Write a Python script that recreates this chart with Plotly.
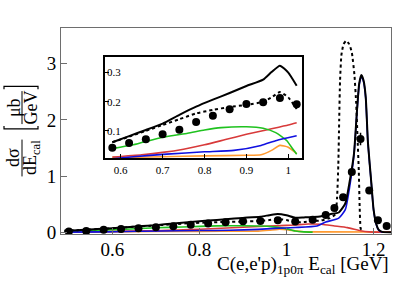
import plotly.graph_objects as go

W, H = 407, 294

# ---------------- data ----------------
data_x = [0.50, 0.54, 0.58, 0.62, 0.66, 0.70, 0.74, 0.78, 0.82, 0.86, 0.90, 0.94,
          0.98, 1.02, 1.06, 1.09, 1.11, 1.13, 1.15, 1.17, 1.19, 1.21, 1.23]
data_y = [0.010, 0.020, 0.042, 0.058, 0.071, 0.088, 0.104, 0.130, 0.152, 0.174, 0.192, 0.198,
          0.213, 0.191, 0.220, 0.305, 0.430, 0.620, 1.070, 1.660, 0.740, 0.210, 0.110]
data_err = [0.003, 0.003, 0.004, 0.004, 0.004, 0.005, 0.005, 0.005, 0.006, 0.006, 0.006, 0.006,
            0.007, 0.007, 0.008, 0.010, 0.015, 0.025, 0.050, 0.110, 0.050, 0.020, 0.015]

total_x = [0.49, 0.52, 0.55, 0.58, 0.62, 0.66, 0.70, 0.74, 0.78, 0.82, 0.86, 0.90, 0.94, 0.96,
           0.98, 1.00, 1.02, 1.04, 1.06, 1.08, 1.10, 1.12, 1.135, 1.145, 1.155, 1.162, 1.167,
           1.172, 1.177, 1.182, 1.187, 1.195, 1.200, 1.206, 1.212, 1.220, 1.240]
total_y = [0.025, 0.035, 0.048, 0.061, 0.082, 0.103, 0.125, 0.155, 0.183, 0.207, 0.230, 0.254,
           0.276, 0.302, 0.324, 0.300, 0.255, 0.262, 0.270, 0.285, 0.320, 0.350, 0.510, 0.900,
           1.400, 2.180, 2.650, 2.800, 2.700, 2.400, 1.600, 0.860, 0.400, 0.150, 0.040, 0.005, 0.0]

alt_x = [0.49, 0.52, 0.55, 0.58, 0.62, 0.66, 0.70, 0.74, 0.78, 0.82, 0.86, 0.90, 0.94, 0.96,
         0.98, 1.00, 1.02, 1.04, 1.06, 1.08, 1.10, 1.112, 1.116, 1.119, 1.121, 1.123, 1.126,
         1.131, 1.137, 1.144, 1.150, 1.156, 1.160, 1.163, 1.166, 1.168, 1.170, 1.173]
alt_y = [0.025, 0.035, 0.048, 0.061, 0.080, 0.100, 0.120, 0.140, 0.160, 0.172, 0.182, 0.189,
         0.200, 0.215, 0.233, 0.215, 0.175, 0.180, 0.195, 0.210, 0.250, 0.320, 0.600, 1.200,
         2.000, 2.700, 3.150, 3.350, 3.410, 3.350, 3.200, 2.800, 2.300, 1.700, 1.100, 0.460,
         0.080, 0.0]

blue_x = [0.49, 0.58, 0.63, 0.71, 0.80, 0.87, 0.935, 0.972, 1.02, 1.07, 1.09, 1.12, 1.135,
          1.145, 1.155, 1.162, 1.167, 1.172, 1.177, 1.182, 1.187, 1.195, 1.200, 1.206, 1.212, 1.220]
blue_y = [0.000, 0.004, 0.011, 0.020, 0.028, 0.033, 0.050, 0.067, 0.083, 0.110, 0.180, 0.250,
          0.400, 0.800, 1.380, 2.160, 2.630, 2.780, 2.680, 2.380, 1.580, 0.850, 0.390, 0.140,
          0.030, 0.0]

green_x = [0.49, 0.52, 0.55, 0.58, 0.63, 0.70, 0.76, 0.80, 0.84, 0.90, 0.94, 0.97, 0.996,
           1.013, 1.02, 1.04, 1.06]
green_y = [0.012, 0.020, 0.030, 0.039, 0.052, 0.078, 0.092, 0.103, 0.111, 0.114, 0.109, 0.094,
           0.067, 0.033, 0.020, 0.005, 0.0]

red_x = [0.49, 0.58, 0.65, 0.70, 0.75, 0.80, 0.85, 0.90, 0.95, 1.00, 1.02, 1.05, 1.08, 1.11,
         1.14, 1.17, 1.19, 1.24]
red_y = [0.002, 0.010, 0.018, 0.026, 0.037, 0.052, 0.070, 0.088, 0.104, 0.120, 0.128, 0.145,
         0.140, 0.110, 0.080, 0.025, 0.005, 0.0]

orange_x = [0.49, 0.58, 0.70, 0.80, 0.90, 0.935, 0.96, 0.98, 1.00, 1.02, 1.04, 1.08, 1.24]
orange_y = [0.002, 0.008, 0.011, 0.014, 0.016, 0.018, 0.033, 0.050, 0.044, 0.022, 0.008,
            0.004, 0.003]

main_xticks = [0.6, 0.8, 1.0, 1.2]
main_xticktext = ["0.6", "0.8", "1", "1.2"]
main_yticks = [0, 1, 2, 3]
inset_xticks = [0.6, 0.7, 0.8, 0.9, 1.0]
inset_xticktext = ["0.6", "0.7", "0.8", "0.9", "1"]
inset_yticks = [0.1, 0.2, 0.3]
inset_lo, inset_hi = 0.58, 1.02

# ---------------- styles ----------------
SERIF = "Liberation Serif"
C_GREEN = "#1fc21f"
C_RED = "#d83a3a"
C_BLUE = "#1010e0"
C_ORANGE = "#ff9a30"


def px(x):
    return x / W


def py(y):
    return 1 - y / H


def sub(xs, ys):
    out = [(a, b) for a, b in zip(xs, ys) if inset_lo - 1e-9 <= a <= inset_hi + 1e-9]
    return [a for a, _ in out], [b for _, b in out]


fig = go.Figure()

curves = [
    (orange_x, orange_y, dict(color=C_ORANGE, width=1.6)),
    (red_x, red_y, dict(color=C_RED, width=1.6)),
    (green_x, green_y, dict(color=C_GREEN, width=1.6)),
    (blue_x, blue_y, dict(color=C_BLUE, width=1.6)),
    (alt_x, alt_y, dict(color="black", width=2, dash="dot")),
    (total_x, total_y, dict(color="black", width=2)),
]

for xs, ys, ln in curves:
    fig.add_trace(go.Scatter(x=xs, y=ys, mode="lines", line=dict(shape="spline", smoothing=0.5, **ln),
                             xaxis="x", yaxis="y", showlegend=False, hoverinfo="skip"))
fig.add_trace(go.Scatter(x=data_x, y=data_y, mode="markers",
                         marker=dict(color="black", size=8),
                         error_y=dict(type="data", array=data_err, color="black", thickness=1.5, width=0),
                         xaxis="x", yaxis="y", showlegend=False))

for xs, ys, ln in curves:
    sx, sy = sub(xs, ys)
    fig.add_trace(go.Scatter(x=sx, y=sy, mode="lines", line=dict(shape="spline", smoothing=0.5, **ln),
                             xaxis="x2", yaxis="y2", showlegend=False, hoverinfo="skip"))
sx, sy = sub(data_x, data_y)
fig.add_trace(go.Scatter(x=sx, y=sy, mode="markers", marker=dict(color="black", size=8),
                         xaxis="x2", yaxis="y2", showlegend=False))

# main frame: x 61..391, y 29.3..241.5
main_dx = [px(61), px(391)]
main_dy = [py(241.5), py(29.3)]
ins_dx = [px(105), px(301.7)]
ins_dy = [py(163.3), py(59)]

axis_gray = "#6e6e6e"
fig.update_layout(
    width=W, height=H,
    margin=dict(l=0, r=0, t=0, b=0),
    paper_bgcolor="white", plot_bgcolor="white",
    font=dict(family=SERIF, color="black"),
    xaxis=dict(domain=main_dx, range=[0.482, 1.240], tickvals=main_xticks, ticktext=main_xticktext,
               ticks="inside", ticklen=6, tickcolor=axis_gray, showline=True, linecolor=axis_gray,
               linewidth=1, mirror=True, showgrid=False, zeroline=False, ticklabelstandoff=-2,
               tickfont=dict(family=SERIF, size=19, color="black"), anchor="y"),
    yaxis=dict(domain=main_dy, range=[-0.035, 3.63], tickvals=main_yticks,
               ticks="inside", ticklen=6, tickcolor=axis_gray, showline=True, linecolor=axis_gray,
               linewidth=1, mirror=True, showgrid=False, zeroline=False,
               tickfont=dict(family=SERIF, size=19, color="black"), anchor="x"),
    xaxis2=dict(domain=ins_dx, range=[0.5625, 1.032], tickvals=inset_xticks, ticktext=inset_xticktext,
                ticks="inside", ticklen=4, tickcolor="black", showline=True, linecolor="black",
                linewidth=2, mirror=True, showgrid=False, zeroline=False,
                tickfont=dict(family=SERIF, size=11, color="black"), anchor="y2"),
    yaxis2=dict(domain=ins_dy, range=[0.0057, 0.353], tickvals=inset_yticks,
                ticks="inside", ticklen=4, tickcolor="black", showline=True, linecolor="black",
                linewidth=2, mirror=True, showgrid=False, zeroline=False, ticklabelstandoff=-20,
                tickfont=dict(family=SERIF, size=11, color="black"), anchor="x2"),
)

# x axis title
fig.add_annotation(x=px(391), y=py(273), xref="paper", yref="paper", xanchor="right", yanchor="middle",
                   text="C(e,e'p)<sub>1p0π</sub> E<sub>cal</sub> [GeV]", showarrow=False,
                   font=dict(family=SERIF, size=19, color="black"))

# y axis title built as rotated fractions
ylab = [
    ("dσ", 13, 163),
    ("dE<sub>cal</sub>", 31, 163),
    ("μb", 13.5, 111),
    ("GeV", 31, 111),
]
for t, x0, y0 in ylab:
    fig.add_annotation(x=px(x0), y=py(y0), xref="paper", yref="paper", xanchor="center", yanchor="middle",
                       text=t, showarrow=False, textangle=-90,
                       font=dict(family=SERIF, size=18, color="black"))
fig.add_shape(type="line", xref="paper", yref="paper", x0=px(22), x1=px(22), y0=py(144), y1=py(182),
              line=dict(color="black", width=1))
fig.add_shape(type="line", xref="paper", yref="paper", x0=px(22), x1=px(22), y0=py(94), y1=py(128),
              line=dict(color="black", width=1))
# brackets
fig.add_shape(type="path", xref="paper", yref="paper",
              path=f"M {px(4)},{py(130)} L {px(4)},{py(133)} L {px(38)},{py(133)} L {px(38)},{py(130)}",
              line=dict(color="black", width=1.2))
fig.add_shape(type="path", xref="paper", yref="paper",
              path=f"M {px(4)},{py(92)} L {px(4)},{py(89)} L {px(38)},{py(89)} L {px(38)},{py(92)}",
              line=dict(color="black", width=1.2))

fig.write_html("out.html", config={"displayModeBar": False},
               post_script="document.body.style.margin='0px';")
